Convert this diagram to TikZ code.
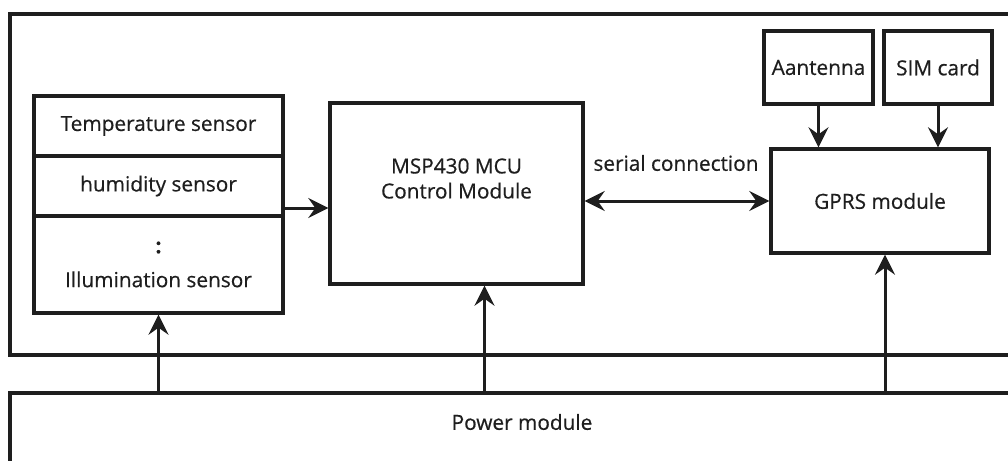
\documentclass[tikz,border=0pt]{standalone}
\usepackage{fontspec}
\setmainfont{Open Sans}[FakeBold=0.5]
\usetikzlibrary{arrows.meta, positioning}
\definecolor{ink}{HTML}{1E1E1E}

\begin{document}
\begin{tikzpicture}[
    x=1pt, y=-1pt,
    box/.style={rectangle, draw=ink, line width=3.4pt, fill=white,
                inner sep=0pt, font=\fontsize{20.8}{25}\selectfont, text=ink, align=center},
    lbl/.style={font=\fontsize{20.8}{25}\selectfont, text=ink, align=center, inner sep=0pt},
    frame/.style={draw=ink, line width=3.4pt},
    arr/.style={-{Stealth[length=20pt, width=20pt, inset=7pt]}, line width=3pt, color=ink},
    darr/.style={{Stealth[length=20pt, width=20pt, inset=7pt]}-{Stealth[length=20pt, width=20pt, inset=7pt]},
                 line width=3pt, color=ink}
  ]
    \clip (0,0) rectangle (1008,460);
    \fill[white] (0,0) rectangle (1008,460);

    % outer frame and power module, both run off the page
    \draw[frame] (1020,14) -- (10,14) -- (10,355) -- (1020,355);
    \draw[frame] (10,470) -- (10,393) -- (1020,393);
    \coordinate (pwr) at (10,393);
    \node[lbl] (pwrtext) at (522,422) {Power module};

    % sensors
    \node[box, minimum width=249, minimum height=60] (temp) at (158.5,126) {Temperature sensor};
    \node[box, minimum width=249, minimum height=60] (hum) at (158.5,186) {humidity sensor};
    \node[box, minimum width=249, minimum height=97] (illum) at (158.5,264.5) {\textbf{:}\\[9pt]Illumination sensor};

    % controller
    \node[box, minimum width=253, minimum height=181,
          label={[lbl, yshift=15pt]center:MSP430 MCU\\Control Module}] (mcu) at (456.5,193.5) {};

    % GPRS side
    \node[box, minimum width=218, minimum height=104] (gprs) at (880,201) {GPRS module};
    \node[box, minimum width=109, minimum height=73] (ant) at (818.5,67.5) {Aantenna};
    \node[box, minimum width=108, minimum height=73] (sim) at (938,67.5) {SIM card};

    \coordinate (s2m) at ([yshift=-22pt]hum.east);
    \draw[arr] (s2m) -- (s2m -| mcu.west);
    \draw[darr] (mcu.east |- gprs.west) -- (gprs.west);
    \node[lbl] (serial) at (676,163) {serial connection};

    \draw[arr] (ant.south) -- (ant.south |- gprs.north);
    \draw[arr] (sim.south) -- (sim.south |- gprs.north);

    % power feeds
    \coordinate (mcuin) at ([xshift=28pt]mcu.south);
    \coordinate (gprsin) at ([xshift=5pt]gprs.south);
    \draw[arr] (illum.south |- pwr) -- (illum.south);
    \draw[arr] (mcuin |- pwr) -- (mcuin);
    \draw[arr] (gprsin |- pwr) -- (gprsin);
  \end{tikzpicture}
\end{document}
